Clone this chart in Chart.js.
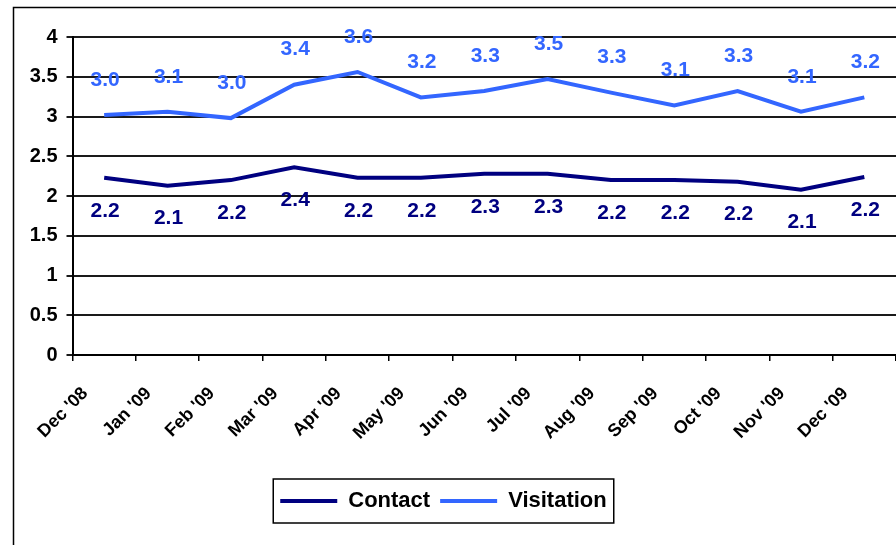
<!DOCTYPE html>
<html>
<head>
<meta charset="utf-8">
<script src="https://cdn.jsdelivr.net/npm/chart.js@4"></script>
<style>
  html, body { margin: 0; padding: 0; background: #fff; }
  canvas { display: block; }
</style>
</head>
<body>
<canvas id="chart" width="896" height="545"></canvas>
<script>
const months = ["Dec '08", "Jan '09", "Feb '09", "Mar '09", "Apr '09", "May '09", "Jun '09",
  "Jul '09", "Aug '09", "Sep '09", "Oct '09", "Nov '09", "Dec '09"];
const contact = [2.23, 2.13, 2.20, 2.36, 2.23, 2.23, 2.28, 2.28, 2.20, 2.20, 2.18, 2.08, 2.24];
const visitation = [3.02, 3.06, 2.98, 3.40, 3.56, 3.24, 3.32, 3.47, 3.30, 3.14, 3.32, 3.06, 3.24];

const FONT = "'Liberation Sans', Arial, sans-serif";

// outer frame (only left and top edges show in the original)
const framePlugin = {
  id: "frame",
  beforeDraw(chart) {
    const ctx = chart.ctx;
    ctx.save();
    ctx.fillStyle = "#fff";
    ctx.fillRect(0, 0, chart.width, chart.height);
    ctx.strokeStyle = "#000";
    ctx.lineWidth = 1.5;
    ctx.strokeRect(13.5, 7.5, chart.width + 20, chart.height + 20);
    ctx.restore();
  },
};

// value labels: above for Visitation, below for Contact
const valueLabels = {
  id: "valueLabels",
  afterDatasetsDraw(chart) {
    const ctx = chart.ctx;
    ctx.save();
    ctx.font = `bold 21px ${FONT}`;
    ctx.textAlign = "center";
    ctx.textBaseline = "middle";
    chart.data.datasets.forEach((ds, i) => {
      const meta = chart.getDatasetMeta(i);
      const dy = ds.label === "Visitation" ? -35 : 33;
      ctx.fillStyle = ds.borderColor;
      meta.data.forEach((pt, j) => {
        ctx.fillText(ds.data[j].toFixed(1), pt.x + 1, pt.y + dy);
      });
    });
    ctx.restore();
  },
};

// box around the legend, legend nudged a little left like the original
const legendBox = {
  id: "legendBox",
  afterLayout(chart) {
    if (!chart.legend) return;
    chart.legend.left -= 11;
    chart.legend.right -= 11;
  },
  afterDraw(chart) {
    const boxes = chart.legend && chart.legend.legendHitBoxes;
    if (!boxes || !boxes.length) return;
    const first = boxes[0];
    const last = boxes[boxes.length - 1];
    const cy = first.top + first.height / 2;
    const ctx = chart.ctx;
    ctx.save();
    ctx.strokeStyle = "#000";
    ctx.lineWidth = 1.5;
    ctx.strokeRect(first.left - 7, cy - 22, last.left + last.width - first.left + 14, 44);
    ctx.restore();
  },
};

new Chart(document.getElementById("chart"), {
  type: "line",
  data: {
    labels: months,
    datasets: [
      {
        label: "Contact",
        data: contact,
        borderColor: "#000080",
        backgroundColor: "#000080",
        borderWidth: 4,
        pointRadius: 0,
        tension: 0,
      },
      {
        label: "Visitation",
        data: visitation,
        borderColor: "#3366ff",
        backgroundColor: "#3366ff",
        borderWidth: 4,
        pointRadius: 0,
        tension: 0,
      },
    ],
  },
  options: {
    responsive: false,
    animation: false,
    layout: { padding: { left: 13, top: 37, right: 0, bottom: 23 } },
    scales: {
      x: {
        offset: true,
        grid: { offset: true, drawOnChartArea: false, drawTicks: true, tickLength: 6, color: "#000", lineWidth: 1.5 },
        border: { display: true, color: "#000", width: 2 },
        ticks: {
          autoSkip: false,
          maxRotation: 45,
          minRotation: 45,
          padding: 22,
          labelOffset: -19,
          color: "#000",
          font: { family: FONT, size: 18, weight: "bold" },
        },
        afterFit(scale) {
          scale.height = 125;
          scale.paddingRight = 0;
        },
      },
      y: {
        min: 0,
        max: 4,
        ticks: {
          stepSize: 0.5,
          padding: 9,
          color: "#000",
          font: { family: FONT, size: 20, weight: "bold" },
          callback: (v) => String(v),
        },
        grid: { color: "#1a1a1a", lineWidth: 2, tickLength: 6 },
        border: { display: true, color: "#000", width: 2 },
        afterFit(scale) {
          scale.width = 59.5;
        },
      },
    },
    plugins: {
      legend: {
        position: "bottom",
        labels: {
          usePointStyle: true,
          pointStyle: "line",
          pointStyleWidth: 57,
          padding: 10,
          color: "#000",
          font: { family: FONT, size: 22, weight: "bold" },
        },
      },
      tooltip: { enabled: false },
    },
  },
  plugins: [framePlugin, valueLabels, legendBox],
});
</script>
</body>
</html>
